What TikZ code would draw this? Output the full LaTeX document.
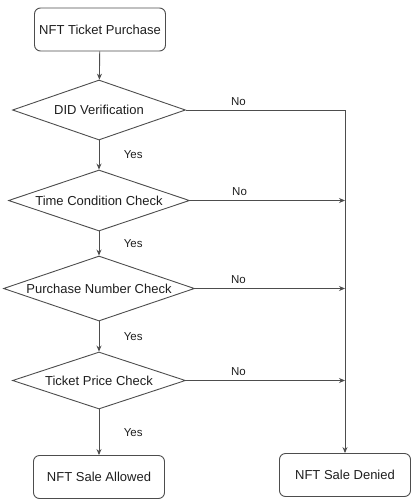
\documentclass[tikz,border=0pt]{standalone}
\usepackage{fontspec}
\setmainfont{Liberation Sans}
\usetikzlibrary{arrows.meta}
\usetikzlibrary{shapes.geometric}
\definecolor{linie}{RGB}{77,77,77}
\definecolor{schrift}{RGB}{30,30,30}

\begin{document}
\begin{tikzpicture}[x=1pt,y=-1pt,
	linie, line width=0.9pt,
	box/.style={draw, rounded corners=6pt, minimum width=131pt, minimum height=43pt, inner sep=0pt, text=schrift, font=\fontsize{13}{15}\selectfont},
	raute/.style={draw, diamond, inner sep=0pt},
	pfeil/.style={-{Stealth[length=6pt,width=5pt]}},
	ja/.style={right=21pt, text=schrift, font=\fontsize{11.5}{13}\selectfont},
	nein/.style={above=2pt, inner sep=2pt, text=schrift, font=\fontsize{11.5}{13}\selectfont}]
	\useasboundingbox (0,0) rectangle (415,504);
	\node[box] (Start) at (100,29.5) {NFT Ticket Purchase};
		\node[raute, minimum width=173pt, minimum height=60pt, label={[text=schrift, font=\fontsize{13}{15}\selectfont]center:DID Verification}] (D1) at (99,110) {};
		\node[raute, minimum width=181pt, minimum height=61pt, label={[text=schrift, font=\fontsize{13}{15}\selectfont]center:Time Condition Check}] (D2) at (99,200.5) {};
		\node[raute, minimum width=191pt, minimum height=65pt, label={[text=schrift, font=\fontsize{13}{15}\selectfont]center:Purchase Number Check}] (D3) at (99,288.5) {};
		\node[raute, minimum width=173pt, minimum height=57pt, label={[text=schrift, font=\fontsize{13}{15}\selectfont]center:Ticket Price Check}] (D4) at (99,380.5) {};
		\node[box] (Ok) at (99,477) {NFT Sale Allowed};
		\node[box] (Nein) at (345,475) {NFT Sale Denied};
		\coordinate (J1) at (345,110);
		\coordinate (J2) at (345,200.5);
		\coordinate (J3) at (345,288.5);
		\coordinate (J4) at (345,380.5);
		% ja-zweig
		\draw[pfeil] (Start) -- (D1);
		\draw[pfeil] (D1) -- node[ja] {Yes} (D2);
		\draw[pfeil] (D2) -- node[ja] {Yes} (D3);
		\draw[pfeil] (D3) -- node[ja] {Yes} (D4);
		\draw[pfeil] (D4) -- node[ja] {Yes} (Ok);
		% nein-zweig
		\draw[pfeil] (D1.east) -- node[nein, pos=0.33] {No} (J1) -- (Nein);
		\draw[pfeil] (D2.east) -- node[nein, pos=0.32] {No} (J2);
		\draw[pfeil] (D3.east) -- node[nein, pos=0.29] {No} (J3);
		\draw[pfeil] (D4.east) -- node[nein, pos=0.33] {No} (J4);
\end{tikzpicture}
\end{document}
